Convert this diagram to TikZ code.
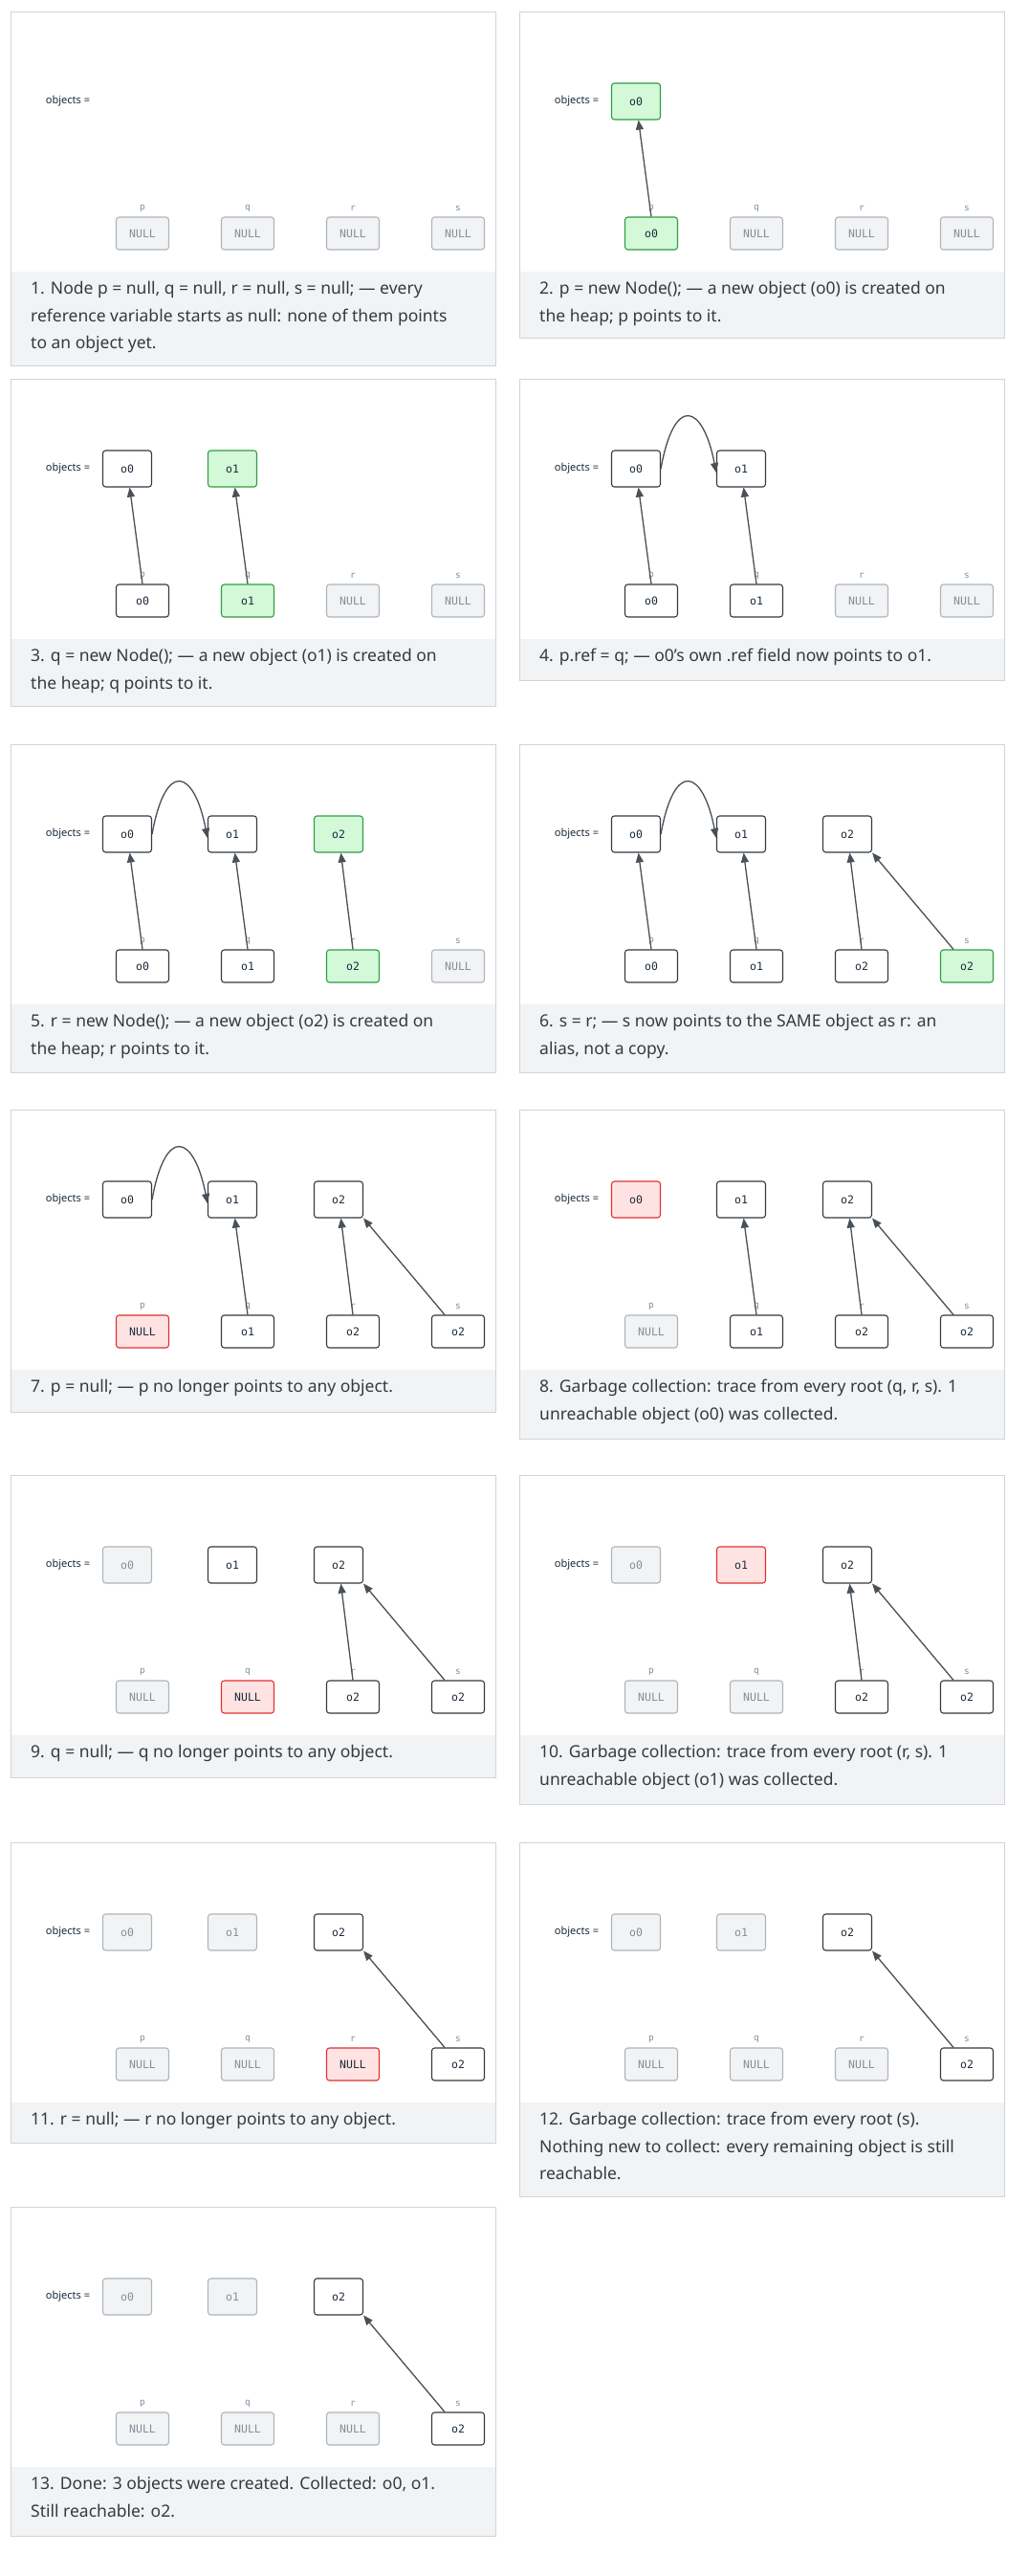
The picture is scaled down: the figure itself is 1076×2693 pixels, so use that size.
\documentclass[tikz,border=0pt]{standalone}
\usepackage{fontspec}
\setmainfont{Noto Sans}
\setmonofont{DejaVu Sans Mono}
\usetikzlibrary{arrows.meta}
\definecolor{ink}{HTML}{343A40}
\definecolor{navy}{HTML}{1B2A3A}
\definecolor{wire}{HTML}{495057}
\definecolor{frameline}{HTML}{D0D4D9}
\definecolor{capfill}{HTML}{F1F3F5}
\definecolor{newfill}{HTML}{D3F9D8}
\definecolor{newline}{HTML}{2F9E44}
\definecolor{killfill}{HTML}{FFE3E3}
\definecolor{killline}{HTML}{E03131}
\definecolor{gonefill}{HTML}{F1F3F5}
\definecolor{goneline}{HTML}{ADB5BD}
\definecolor{gonetext}{HTML}{868E96}
\tikzset{
  box/.style={draw=ink,fill=white,text=navy,line width=1.1pt,rounded corners=3pt,
    font=\ttfamily\fontsize{11.5}{13}\selectfont,inner sep=0pt},
  obj/.style={box,minimum width=51pt,minimum height=38pt},
  ref/.style={box,minimum width=55pt,minimum height=34pt},
  new/.style={fill=newfill,draw=newline},
  kill/.style={fill=killfill,draw=killline},
  gone/.style={fill=gonefill,draw=goneline,text=gonetext},
  vlbl/.style={text=gonetext,font=\ttfamily\fontsize{9.5}{10}\selectfont,inner sep=0pt},
  olbl/.style={font=\bfseries\fontsize{11}{12}\selectfont,text=navy,inner sep=0pt},
  ptr/.style={draw=wire,line width=1.3pt,-{Triangle[length=10pt,width=8pt]}},
  caption/.style={anchor=north west,align=left,text=ink,inner sep=0pt,
    font=\fontsize{17.5}{28.5}\selectfont},
}
% one panel: frame, caption band, objects label, variable labels
\newcommand{\panel}[2]{%
  \fill[white] (0,0) rectangle (507,#1);
  \fill[capfill] (0,272) rectangle (507,#1);
  \draw[frameline,line width=1pt] (0,0) rectangle (507,#1);
  \node[caption] at (21,282) {#2};
  \node[olbl] at (60,94) {objects =};
  \foreach \v/\x in {p/138,q/248,r/358,s/468}
    \node[vlbl] at (\x,206) {\v};
}
\begin{document}
\begin{tikzpicture}[x=1pt,y=-1pt]
\useasboundingbox (0,0) rectangle (1076,2693);
\fill[white] (0,0) rectangle (1076,2693);

% 1
\begin{scope}[shift={(11,12)}]
  \panel{370}{1. Node p = null, q = null, r = null, s = null; — every\\reference variable starts as null: none of them points\\to an object yet.}
  \node[ref,gone] (a-p) at (138,232) {NULL};
  \node[ref,gone] (a-q) at (248,232) {NULL};
  \node[ref,gone] (a-r) at (358,232) {NULL};
  \node[ref,gone] (a-s) at (468,232) {NULL};
\end{scope}

% 2
\begin{scope}[shift={(543,12)}]
  \panel{341}{2. p = new Node(); — a new object (o0) is created on\\the heap; p points to it.}
  \node[obj,new] (b-o0) at (122,94) {o0};
  \node[ref,new] (b-p) at (138,232) {o0};
  \node[ref,gone] (b-q) at (248,232) {NULL};
  \node[ref,gone] (b-r) at (358,232) {NULL};
  \node[ref,gone] (b-s) at (468,232) {NULL};
  \draw[ptr] (b-p.north) -- (b-o0);
\end{scope}

% 3
\begin{scope}[shift={(11,396)}]
  \panel{342}{3. q = new Node(); — a new object (o1) is created on\\the heap; q points to it.}
  \node[obj] (c-o0) at (122,94) {o0};
  \node[obj,new] (c-o1) at (232,94) {o1};
  \node[ref] (c-p) at (138,232) {o0};
  \node[ref,new] (c-q) at (248,232) {o1};
  \node[ref,gone] (c-r) at (358,232) {NULL};
  \node[ref,gone] (c-s) at (468,232) {NULL};
  \draw[ptr] (c-p.north) -- (c-o0);
  \draw[ptr] (c-q.north) -- (c-o1);
\end{scope}

% 4
\begin{scope}[shift={(543,396)}]
  \panel{315}{4. p.ref = q; — o0's own .ref field now points to o1.}
  \node[obj] (d-o0) at (122,94) {o0};
  \node[obj] (d-o1) at (232,94) {o1};
  \node[ref] (d-p) at (138,232) {o0};
  \node[ref] (d-q) at (248,232) {o1};
  \node[ref,gone] (d-r) at (358,232) {NULL};
  \node[ref,gone] (d-s) at (468,232) {NULL};
  \draw[ptr] (d-p.north) -- (d-o0);
  \draw[ptr] (d-q.north) -- (d-o1);
  \draw[ptr] (d-o0.east) .. controls +(14,-78) and +(-14,-72) .. ([yshift=-4pt]d-o1.west);
\end{scope}

% 5
\begin{scope}[shift={(11,778)}]
  \panel{343}{5. r = new Node(); — a new object (o2) is created on\\the heap; r points to it.}
  \node[obj] (e-o0) at (122,94) {o0};
  \node[obj] (e-o1) at (232,94) {o1};
  \node[obj,new] (e-o2) at (343,94) {o2};
  \node[ref] (e-p) at (138,232) {o0};
  \node[ref] (e-q) at (248,232) {o1};
  \node[ref,new] (e-r) at (358,232) {o2};
  \node[ref,gone] (e-s) at (468,232) {NULL};
  \draw[ptr] (e-p.north) -- (e-o0);
  \draw[ptr] (e-q.north) -- (e-o1);
  \draw[ptr] (e-r.north) -- (e-o2);
  \draw[ptr] (e-o0.east) .. controls +(14,-78) and +(-14,-72) .. ([yshift=-4pt]e-o1.west);
\end{scope}

% 6
\begin{scope}[shift={(543,778)}]
  \panel{343}{6. s = r; — s now points to the SAME object as r: an\\alias, not a copy.}
  \node[obj] (f-o0) at (122,94) {o0};
  \node[obj] (f-o1) at (232,94) {o1};
  \node[obj] (f-o2) at (343,94) {o2};
  \node[ref] (f-p) at (138,232) {o0};
  \node[ref] (f-q) at (248,232) {o1};
  \node[ref] (f-r) at (358,232) {o2};
  \node[ref,new] (f-s) at (468,232) {o2};
  \draw[ptr] (f-p.north) -- (f-o0);
  \draw[ptr] (f-q.north) -- (f-o1);
  \draw[ptr] (f-r.north) -- (f-o2);
  \draw[ptr] ([xshift=-14pt]f-s.north) -- (f-o2.south east);
  \draw[ptr] (f-o0.east) .. controls +(14,-78) and +(-14,-72) .. ([yshift=-4pt]f-o1.west);
\end{scope}

% 7
\begin{scope}[shift={(11,1160)}]
  \panel{316}{7. p = null; — p no longer points to any object.}
  \node[obj] (g-o0) at (122,94) {o0};
  \node[obj] (g-o1) at (232,94) {o1};
  \node[obj] (g-o2) at (343,94) {o2};
  \node[ref,kill] (g-p) at (138,232) {NULL};
  \node[ref] (g-q) at (248,232) {o1};
  \node[ref] (g-r) at (358,232) {o2};
  \node[ref] (g-s) at (468,232) {o2};
  \draw[ptr] (g-q.north) -- (g-o1);
  \draw[ptr] (g-r.north) -- (g-o2);
  \draw[ptr] ([xshift=-14pt]g-s.north) -- (g-o2.south east);
  \draw[ptr] (g-o0.east) .. controls +(14,-78) and +(-14,-72) .. ([yshift=-4pt]g-o1.west);
\end{scope}

% 8
\begin{scope}[shift={(543,1160)}]
  \panel{344}{8. Garbage collection: trace from every root (q, r, s). 1\\unreachable object (o0) was collected.}
  \node[obj,kill] (h-o0) at (122,94) {o0};
  \node[obj] (h-o1) at (232,94) {o1};
  \node[obj] (h-o2) at (343,94) {o2};
  \node[ref,gone] (h-p) at (138,232) {NULL};
  \node[ref] (h-q) at (248,232) {o1};
  \node[ref] (h-r) at (358,232) {o2};
  \node[ref] (h-s) at (468,232) {o2};
  \draw[ptr] (h-q.north) -- (h-o1);
  \draw[ptr] (h-r.north) -- (h-o2);
  \draw[ptr] ([xshift=-14pt]h-s.north) -- (h-o2.south east);
\end{scope}

% 9
\begin{scope}[shift={(11,1542)}]
  \panel{316}{9. q = null; — q no longer points to any object.}
  \node[obj,gone] (i-o0) at (122,94) {o0};
  \node[obj] (i-o1) at (232,94) {o1};
  \node[obj] (i-o2) at (343,94) {o2};
  \node[ref,gone] (i-p) at (138,232) {NULL};
  \node[ref,kill] (i-q) at (248,232) {NULL};
  \node[ref] (i-r) at (358,232) {o2};
  \node[ref] (i-s) at (468,232) {o2};
  \draw[ptr] (i-r.north) -- (i-o2);
  \draw[ptr] ([xshift=-14pt]i-s.north) -- (i-o2.south east);
\end{scope}

% 10
\begin{scope}[shift={(543,1542)}]
  \panel{344}{10. Garbage collection: trace from every root (r, s). 1\\unreachable object (o1) was collected.}
  \node[obj,gone] (j-o0) at (122,94) {o0};
  \node[obj,kill] (j-o1) at (232,94) {o1};
  \node[obj] (j-o2) at (343,94) {o2};
  \node[ref,gone] (j-p) at (138,232) {NULL};
  \node[ref,gone] (j-q) at (248,232) {NULL};
  \node[ref] (j-r) at (358,232) {o2};
  \node[ref] (j-s) at (468,232) {o2};
  \draw[ptr] (j-r.north) -- (j-o2);
  \draw[ptr] ([xshift=-14pt]j-s.north) -- (j-o2.south east);
\end{scope}

% 11
\begin{scope}[shift={(11,1926)}]
  \panel{314}{11. r = null; — r no longer points to any object.}
  \node[obj,gone] (k-o0) at (122,94) {o0};
  \node[obj,gone] (k-o1) at (232,94) {o1};
  \node[obj] (k-o2) at (343,94) {o2};
  \node[ref,gone] (k-p) at (138,232) {NULL};
  \node[ref,gone] (k-q) at (248,232) {NULL};
  \node[ref,kill] (k-r) at (358,232) {NULL};
  \node[ref] (k-s) at (468,232) {o2};
  \draw[ptr] ([xshift=-14pt]k-s.north) -- (k-o2.south east);
\end{scope}

% 12
\begin{scope}[shift={(543,1926)}]
  \panel{370}{12. Garbage collection: trace from every root (s).\\Nothing new to collect: every remaining object is still\\reachable.}
  \node[obj,gone] (l-o0) at (122,94) {o0};
  \node[obj,gone] (l-o1) at (232,94) {o1};
  \node[obj] (l-o2) at (343,94) {o2};
  \node[ref,gone] (l-p) at (138,232) {NULL};
  \node[ref,gone] (l-q) at (248,232) {NULL};
  \node[ref,gone] (l-r) at (358,232) {NULL};
  \node[ref] (l-s) at (468,232) {o2};
  \draw[ptr] ([xshift=-14pt]l-s.north) -- (l-o2.south east);
\end{scope}

% 13
\begin{scope}[shift={(11,2307)}]
  \panel{344}{13. Done: 3 objects were created. Collected: o0, o1.\\Still reachable: o2.}
  \node[obj,gone] (m-o0) at (122,94) {o0};
  \node[obj,gone] (m-o1) at (232,94) {o1};
  \node[obj] (m-o2) at (343,94) {o2};
  \node[ref,gone] (m-p) at (138,232) {NULL};
  \node[ref,gone] (m-q) at (248,232) {NULL};
  \node[ref,gone] (m-r) at (358,232) {NULL};
  \node[ref] (m-s) at (468,232) {o2};
  \draw[ptr] ([xshift=-14pt]m-s.north) -- (m-o2.south east);
\end{scope}
\end{tikzpicture}
\end{document}
